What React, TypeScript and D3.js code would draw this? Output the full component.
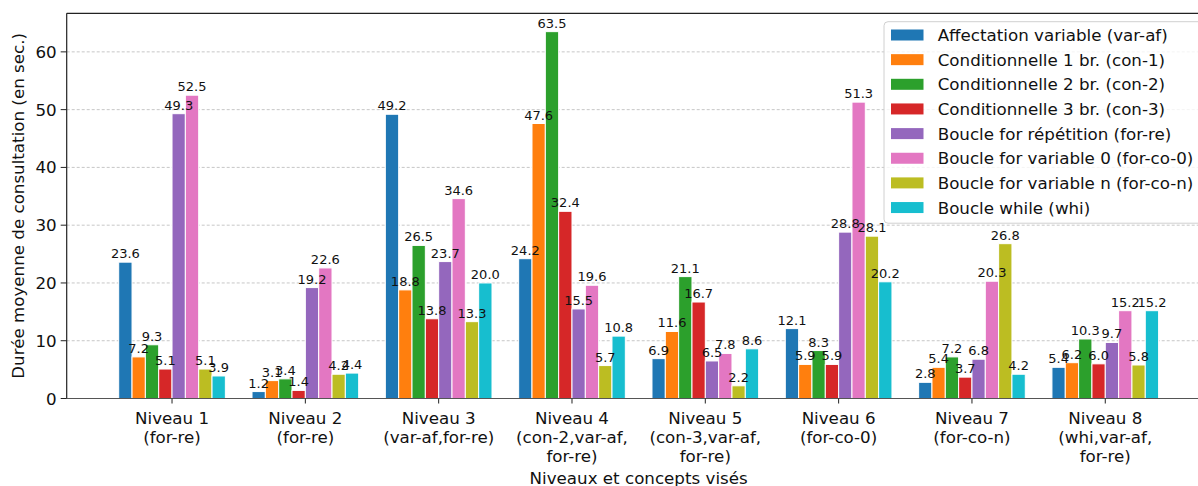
import React from "react";
import * as d3 from "d3";

const levels = [
  ["Niveau 1", "(for-re)"],
  ["Niveau 2", "(for-re)"],
  ["Niveau 3", "(var-af,for-re)"],
  ["Niveau 4", "(con-2,var-af,", "for-re)"],
  ["Niveau 5", "(con-3,var-af,", "for-re)"],
  ["Niveau 6", "(for-co-0)"],
  ["Niveau 7", "(for-co-n)"],
  ["Niveau 8", "(whi,var-af,", "for-re)"],
];

const seriesNames = [
  "Affectation variable (var-af)",
  "Conditionnelle 1 br. (con-1)",
  "Conditionnelle 2 br. (con-2)",
  "Conditionnelle 3 br. (con-3)",
  "Boucle for répétition (for-re)",
  "Boucle for variable 0 (for-co-0)",
  "Boucle for variable n (for-co-n)",
  "Boucle while (whi)",
];

const colors = ["#1f77b4", "#ff7f0e", "#2ca02c", "#d62728", "#9467bd", "#e377c2", "#bcbd22", "#17becf"];

const varAf = [23.6, 1.2, 49.2, 24.2, 6.9, 12.1, 2.8, 5.4];
const con1 = [7.2, 3.1, 18.8, 47.6, 11.6, 5.9, 5.4, 6.2];
const con2 = [9.3, 3.4, 26.5, 63.5, 21.1, 8.3, 7.2, 10.3];
const con3 = [5.1, 1.4, 13.8, 32.4, 16.7, 5.9, 3.7, 6.0];
const forRe = [49.3, 19.2, 23.7, 15.5, 6.5, 28.8, 6.8, 9.7];
const forCo0 = [52.5, 22.6, 34.6, 19.6, 7.8, 51.3, 20.3, 15.2];
const forCoN = [5.1, 4.2, 13.3, 5.7, 2.2, 28.1, 26.8, 5.8];
const whi = [3.9, 4.4, 20.0, 10.8, 8.6, 20.2, 4.2, 15.2];

const series = [varAf, con1, con2, con3, forRe, forCo0, forCoN, whi];
const yTicks = [0, 10, 20, 30, 40, 50, 60];

const W = 1198;
const H = 486;
const FONT = "DejaVu Sans, sans-serif";

export default function App() {
  const x = d3.scaleLinear().domain([-0.79, 7.79]).range([66.7, 1210.6]);
  const y = d3.scaleLinear().domain([0, 66.675]).range([398.5, 13.3]);
  const barW = 0.1;
  const left = x.range()[0];
  const right = x.range()[1];
  const legendX = 884;
  const legendY = 21.7;
  const rowH = 24.65;

  return (
    <svg width={W} height={H} style={{ position: "absolute", left: 0, top: 0, background: "#fff" }} fontFamily={FONT}>
      {/* grid */}
      {yTicks.filter((t) => t > 0).map((t) => (
        <line key={"g" + t} x1={left} x2={right} y1={y(t)} y2={y(t)} stroke="#b9b9b9" strokeWidth={0.8} strokeDasharray="3,2" />
      ))}
      {/* bars */}
      {series.map((vals, si) =>
        vals.map((v, gi) => {
          const x0 = x(gi - 0.4 + si * barW);
          const x1 = x(gi - 0.4 + (si + 1) * barW);
          return (
            <rect key={`b${si}-${gi}`} x={x0} y={y(v)} width={x1 - x0} height={y(0) - y(v)} fill={colors[si]} stroke="#fff" strokeWidth={1} />
          );
        })
      )}
      {/* value labels */}
      {series.map((vals, si) =>
        vals.map((v, gi) => (
          <text key={`t${si}-${gi}`} x={x(gi - 0.4 + (si + 0.5) * barW)} y={y(v) - 4} textAnchor="middle" fontSize={13} fill="#111">
            {v.toFixed(1)}
          </text>
        ))
      )}
      {/* spines */}
      <line x1={left} x2={left} y1={y.range()[1]} y2={y(0)} stroke="#222" strokeWidth={1.2} />
      <line x1={left} x2={right} y1={y.range()[1]} y2={y.range()[1]} stroke="#222" strokeWidth={1.2} />
      <line x1={left} x2={right} y1={y(0)} y2={y(0)} stroke="#555" strokeWidth={1.2} />
      {/* y ticks */}
      {yTicks.map((t) => (
        <g key={"y" + t}>
          <line x1={left - 6} x2={left} y1={y(t)} y2={y(t)} stroke="#222" strokeWidth={1} />
          <text x={left - 10} y={y(t) + 6} textAnchor="end" fontSize={16.7} fill="#111">
            {t}
          </text>
        </g>
      ))}
      {/* x ticks */}
      {levels.map((lines, gi) => (
        <g key={"x" + gi}>
          <line x1={x(gi)} x2={x(gi)} y1={y(0)} y2={y(0) + 5} stroke="#222" strokeWidth={1} />
          {lines.map((ln, li) => (
            <text key={li} x={x(gi)} y={424 + li * 18.8} textAnchor="middle" fontSize={16.7} fill="#111">
              {ln}
            </text>
          ))}
        </g>
      ))}
      {/* axis labels */}
      <text x={(left + right) / 2} y={484} textAnchor="middle" fontSize={16.7} fill="#111">
        Niveaux et concepts visés
      </text>
      <text transform={`translate(24, ${(y.range()[0] + y.range()[1]) / 2}) rotate(-90)`} textAnchor="middle" fontSize={16.7} fill="#111">
        Durée moyenne de consultation (en sec.)
      </text>
      {/* legend */}
      <rect x={legendX} y={legendY} width={320} height={201.5} rx={4} fill="#fff" fillOpacity={0.8} stroke="#d0d0d0" strokeWidth={1} />
      {seriesNames.map((name, i) => {
        const cy = 35 + i * rowH;
        return (
          <g key={"l" + i}>
            <rect x={891} y={cy - 5.5} width={32.5} height={11} fill={colors[i]} />
            <text x={937.7} y={cy + 6} fontSize={16.7} fill="#111">
              {name}
            </text>
          </g>
        );
      })}
    </svg>
  );
}
